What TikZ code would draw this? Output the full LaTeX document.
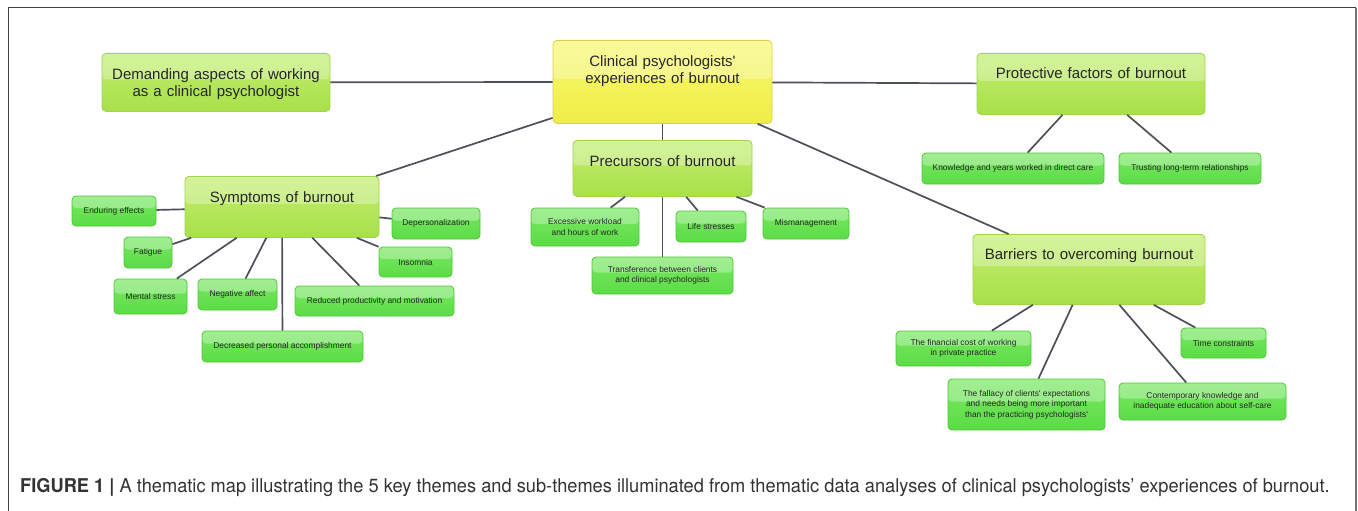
\documentclass[tikz,border=0pt]{standalone}
\usepackage{fontspec}
\setmainfont{Liberation Sans}
\newfontfamily\capfont{TeX Gyre Heros}[FakeStretch=0.96]
\usetikzlibrary{positioning, math, calc}

\definecolor{coreTop}{HTML}{F8F870}
\definecolor{coreBot}{HTML}{EEEE48}
\definecolor{coreLine}{HTML}{D8D24A}
\definecolor{themeTop}{HTML}{C2EE6E}
\definecolor{themeBot}{HTML}{A8E04A}
\definecolor{themeLine}{HTML}{A0D44C}
\definecolor{leafTop}{HTML}{78E862}
\definecolor{leafBot}{HTML}{5CDC46}
\definecolor{leafLine}{HTML}{50C63A}
\definecolor{branchGray}{HTML}{4C5058}

\begin{document}
\begin{tikzpicture}[x=1pt, y=-1pt]
			\tikzmath{
				\bigFont     = 15;    %theme text size
				\bigSkip     = 17.3;  %theme line spacing
				\smallFont   = 8.4;   %leaf text size
				\smallSkip   = 10.5;  %leaf line spacing
				\corner      = 4;     %box corner radius
			}
			\tikzstyle{Gloss} = [
				path picture={
					\fill[white, opacity=0.3] (path picture bounding box.north west) rectangle ($(path picture bounding box.east)+(0,3pt)$);
				}
			]
			\tikzstyle{Box} = [
				Gloss,
				rounded corners=\corner pt,
				line width=0.8pt,
				inner sep=0pt,
				align=center,
				text=black!85
			]
			\tikzstyle{Core} = [
				Box,
				anchor=north,
				draw=coreLine,
				top color=coreTop,
				bottom color=coreBot,
				font=\fontsize{\bigFont}{\bigSkip}\selectfont
			]
			\tikzstyle{Theme} = [
				Box,
				anchor=north,
				draw=themeLine,
				top color=themeTop,
				bottom color=themeBot,
				font=\fontsize{\bigFont}{\bigSkip}\selectfont
			]
			\tikzstyle{Leaf} = [
				Box,
				draw=leafLine,
				top color=leafTop,
				bottom color=leafBot,
				font=\fontsize{\smallFont}{\smallSkip}\selectfont
			]
			\tikzstyle{Branch} = [
				draw=branchGray,
				line width=1.7pt
			]
			\useasboundingbox (0,0) rectangle (1358,511);

			% frame
			\draw[black!75, line width=1pt] (8,511) -- (8,8) -- (1356,8);
			\draw[black!55, line width=2pt] (1356,8) -- (1356,511);

			% themes
			\node (core) [Core, text width=219pt, text height=25.7pt, text depth=57.3pt] at (662.5,40) {Clinical psychologists\textquotesingle\\experiences of burnout};
			\node (demand) [Theme, text width=228pt, text height=26pt, text depth=32pt] at (216,53) {Demanding aspects of working\\as a clinical psychologist};
			\node (protect) [Theme, text width=228pt, text height=25.3pt, text depth=35.7pt] at (1091,53) {Protective factors of burnout};
			\node (barrier) [Theme, text width=232pt, text height=25.3pt, text depth=44.7pt] at (1089,234) {Barriers to overcoming burnout};
			\node (precur) [Theme, text width=179pt, text height=25.7pt, text depth=30.3pt] at (662.5,140) {Precursors of burnout};
			\node (sympt) [Theme, text width=194pt, text height=25.7pt, text depth=35.3pt] at (282,176) {Symptoms of burnout};

			% protective factors
			\node (protect1) [Leaf, minimum width=182pt, minimum height=31pt] at (1013,168.5) {Knowledge and years worked in direct care};
			\node (protect2) [Leaf, minimum width=142pt, minimum height=31pt] at (1190,168.5) {Trusting long-term relationships};

			% barriers
			\node (barrier1) [Leaf, minimum width=135pt, minimum height=35pt] at (963.5,348.5) {The financial cost of working\\in private practice};
			\node (barrier2) [Leaf, minimum width=157pt, minimum height=51pt] at (1026.5,404.5) {The fallacy of clients\textquotesingle{} expectations\\and needs being more important\\than the practicing psychologists\textquotesingle};
			\node (barrier3) [Leaf, minimum width=167pt, minimum height=37pt] at (1202.5,401.5) {Contemporary knowledge and\\inadequate education about self-care};
			\node (barrier4) [Leaf, minimum width=85pt, minimum height=30pt] at (1223.5,343) {Time constraints};

			% precursors
			\node (precur1) [Leaf, minimum width=108pt, minimum height=38pt] at (585,227) {Excessive workload\\and hours of work};
			\node (precur2) [Leaf, minimum width=141pt, minimum height=37pt] at (662.5,275.5) {Transference between clients\\and clinical psychologists};
			\node (precur3) [Leaf, minimum width=70pt, minimum height=31pt] at (711,226.5) {Life stresses};
			\node (precur4) [Leaf, minimum width=86pt, minimum height=31pt] at (806,223.5) {Mismanagement};

			% symptoms
			\node (sympt1) [Leaf, minimum width=84pt, minimum height=30pt] at (114,211) {Enduring effects};
			\node (sympt2) [Leaf, minimum width=48pt, minimum height=31pt] at (148,252.5) {Fatigue};
			\node (sympt3) [Leaf, minimum width=73pt, minimum height=35pt] at (150.5,296.5) {Mental stress};
			\node (sympt4) [Leaf, minimum width=79pt, minimum height=31pt] at (237.5,294.5) {Negative affect};
			\node (sympt5) [Leaf, minimum width=161pt, minimum height=31pt] at (282.5,346.5) {Decreased personal accomplishment};
			\node (sympt6) [Leaf, minimum width=159pt, minimum height=30pt] at (374.5,301) {Reduced productivity and motivation};
			\node (sympt7) [Leaf, minimum width=73pt, minimum height=30pt] at (415.5,262) {Insomnia};
			\node (sympt8) [Leaf, minimum width=88pt, minimum height=31pt] at (436,223.5) {Depersonalization};

			% branches
			\foreach \theme in {demand, protect, barrier, precur, sympt}
				\draw [Branch] (core) -- (\theme);
			\foreach \i in {1,2}
				\draw [Branch] (protect) -- (protect\i);
			\foreach \i in {1,...,4}
				\draw [Branch] (barrier) -- (barrier\i);
			\foreach \i in {1,...,4}
				\draw [Branch] (precur) -- (precur\i);
			\foreach \i in {1,...,8}
				\draw [Branch] (sympt) -- (sympt\i);

			% caption
			\node (caption) [anchor=base west, inner sep=0pt, text=black!80, font=\capfont\fontsize{19}{22}\selectfont] at (20,492) {\textbf{FIGURE 1 |} A thematic map illustrating the 5 key themes and sub-themes illuminated from thematic data analyses of clinical psychologists’ experiences of burnout.};
\end{tikzpicture}
\end{document}
